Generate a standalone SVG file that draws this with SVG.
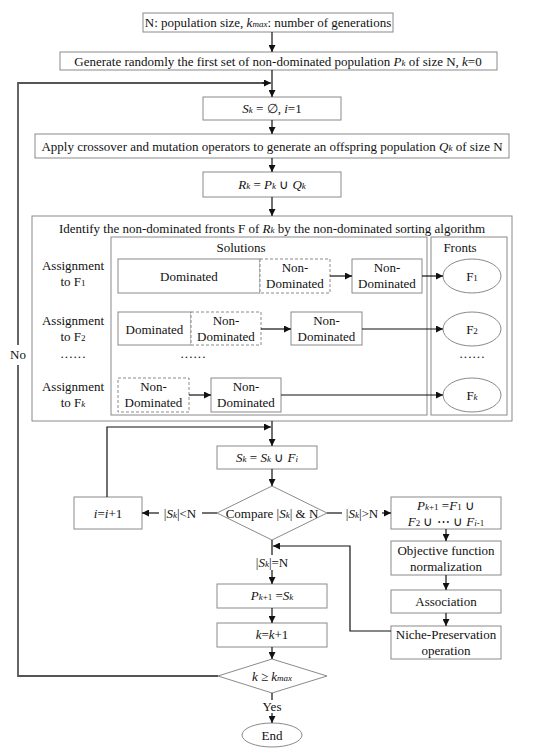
<svg xmlns="http://www.w3.org/2000/svg" width="550" height="754" viewBox="0 0 550 754">
<defs>
<marker id="ah" viewBox="0 0 10 10" refX="10" refY="5" markerWidth="8" markerHeight="7" markerUnits="userSpaceOnUse" orient="auto">
<path d="M0,0 L10,5 L0,10 Z" fill="#111"/>
</marker>
<style>
text{font-family:"Liberation Serif","Times New Roman",serif;font-size:13px;fill:#111;text-anchor:middle}
.b{fill:#fff;stroke:#8a8a8a;stroke-width:1}
.d{fill:#fff;stroke:#8a8a8a;stroke-width:1;stroke-dasharray:3,2}
.c{fill:none;stroke:#111;stroke-width:1.2}
.ca{fill:none;stroke:#111;stroke-width:1.2;marker-end:url(#ah)}
.loop{fill:none;stroke:#555;stroke-width:1.8}
.s{font-size:9px}
.i{font-style:italic}
</style>
</defs>
<rect width="550" height="754" fill="#fff"/>

<g id="n-input">
<rect class="b" x="143" y="13" width="250" height="19"/>
<text x="268" y="27">N: population size, <tspan class="i">k</tspan><tspan class="s i">max</tspan>: number of generations</text>
</g>
<g id="n-generate">
<rect class="b" x="60" y="52" width="437" height="18"/>
<text x="278" y="66">Generate randomly the first set of non-dominated population <tspan class="i">P</tspan><tspan class="s i">k</tspan> of size N, <tspan class="i">k</tspan>=0</text>
</g>
<g id="n-init">
<rect class="b" x="203" y="97" width="138" height="23"/>
<text x="272" y="113"><tspan class="i">S</tspan><tspan class="s i">k</tspan> = ∅, <tspan class="i">i</tspan>=1</text>
</g>
<g id="n-offspring">
<rect class="b" x="35" y="134" width="474" height="24"/>
<text x="272" y="151">Apply crossover and mutation operators to generate an offspring population <tspan class="i">Q</tspan><tspan class="s i">k</tspan> of size N</text>
</g>
<g id="n-union">
<rect class="b" x="203" y="172" width="138" height="25"/>
<text x="272" y="189"><tspan class="i">R</tspan><tspan class="s i">k</tspan> = <tspan class="i">P</tspan><tspan class="s i">k</tspan> ∪ <tspan class="i">Q</tspan><tspan class="s i">k</tspan></text>
</g>

<g id="n-sorting">
<rect class="b" x="32" y="216" width="480" height="205"/>
<text x="272" y="233">Identify the non-dominated fronts F of <tspan class="i">R</tspan><tspan class="s i">k</tspan> by the non-dominated sorting algorithm</text>
<rect class="b" x="111" y="237" width="316" height="178"/>
<rect class="b" x="431" y="237" width="76" height="178"/>
<text x="241" y="252">Solutions</text>
<text x="460" y="252">Fronts</text>
<text x="73" y="270">Assignment</text>
<text x="73" y="286">to F<tspan class="s">1</tspan></text>
<text x="73" y="325">Assignment</text>
<text x="73" y="341">to F<tspan class="s">2</tspan></text>
<text x="73" y="361">······</text>
<text x="193" y="361">······</text>
<text x="472" y="361">······</text>
<text x="73" y="391">Assignment</text>
<text x="73" y="407">to F<tspan class="s i">k</tspan></text>
</g>

<g id="n-r1-dom"><rect class="b" x="118" y="259" width="142" height="34"/><text x="189" y="281">Dominated</text></g>
<g id="n-r1-nd1"><rect class="d" x="260" y="259" width="70" height="34"/><text x="295" y="272">Non-</text><text x="295" y="288">Dominated</text></g>
<g id="n-r1-nd2"><rect class="b" x="352" y="259" width="70" height="34"/><text x="387" y="272">Non-</text><text x="387" y="288">Dominated</text></g>
<g id="n-f1"><ellipse class="b" cx="472" cy="276" rx="29" ry="17"/><text x="472" y="281">F<tspan class="s">1</tspan></text></g>

<g id="n-r2-dom"><rect class="b" x="118" y="312" width="73" height="33"/><text x="154.5" y="334">Dominated</text></g>
<g id="n-r2-nd1"><rect class="d" x="191" y="312" width="70" height="33"/><text x="226" y="325">Non-</text><text x="226" y="341">Dominated</text></g>
<g id="n-r2-nd2"><rect class="b" x="291" y="312" width="71" height="33"/><text x="326.5" y="325">Non-</text><text x="326.5" y="341">Dominated</text></g>
<g id="n-f2"><ellipse class="b" cx="472" cy="329" rx="29" ry="17"/><text x="472" y="334">F<tspan class="s">2</tspan></text></g>

<g id="n-rk-nd1"><rect class="d" x="118" y="378" width="71" height="34"/><text x="153.5" y="391">Non-</text><text x="153.5" y="407">Dominated</text></g>
<g id="n-rk-nd2"><rect class="b" x="211" y="378" width="70" height="34"/><text x="246" y="391">Non-</text><text x="246" y="407">Dominated</text></g>
<g id="n-fk"><ellipse class="b" cx="472" cy="395" rx="29" ry="17"/><text x="472" y="400">F<tspan class="s i">k</tspan></text></g>

<g id="n-addfront">
<rect class="b" x="217" y="446" width="100" height="23"/>
<text x="267" y="462"><tspan class="i">S</tspan><tspan class="s i">k</tspan> = <tspan class="i">S</tspan><tspan class="s i">k</tspan> ∪ <tspan class="i">F</tspan><tspan class="s i">i</tspan></text>
</g>
<g id="n-compare">
<polygon class="b" points="272,486 327,513 272,540 217,513"/>
<text x="272" y="518">Compare |<tspan class="i">S</tspan><tspan class="s i">k</tspan>| &amp; N</text>
</g>
<g id="n-inc">
<rect class="b" x="74" y="497" width="68" height="32"/>
<text x="108" y="518"><tspan class="i">i</tspan>=<tspan class="i">i</tspan>+1</text>
</g>

<g id="n-pk1-partial">
<rect class="b" x="391" y="497" width="110" height="32"/>
<text x="446" y="510"><tspan class="i">P</tspan><tspan class="s i">k</tspan><tspan class="s">+1</tspan> =<tspan class="i">F</tspan><tspan class="s">1</tspan> ∪</text>
<text x="446" y="526"><tspan class="i">F</tspan><tspan class="s">2</tspan> ∪ ⋯ ∪  <tspan class="i">F</tspan><tspan class="s i">i</tspan><tspan class="s">-1</tspan></text>
</g>
<g id="n-normalize">
<rect class="b" x="391" y="541" width="110" height="34"/>
<text x="446" y="555">Objective function</text>
<text x="446" y="571">normalization</text>
</g>
<g id="n-assoc">
<rect class="b" x="391" y="590" width="110" height="23"/>
<text x="446" y="606">Association</text>
</g>
<g id="n-niche">
<rect class="b" x="391" y="626" width="110" height="33"/>
<text x="446" y="639">Niche-Preservation</text>
<text x="446" y="655">operation</text>
</g>

<g id="n-pk1">
<rect class="b" x="217" y="584" width="110" height="24"/>
<text x="272" y="600"><tspan class="i">P</tspan><tspan class="s i">k</tspan><tspan class="s">+1</tspan> =<tspan class="i">S</tspan><tspan class="s i">k</tspan></text>
</g>
<g id="n-kinc">
<rect class="b" x="217" y="623" width="110" height="24"/>
<text x="272" y="639"><tspan class="i">k</tspan>=<tspan class="i">k</tspan>+1</text>
</g>
<g id="n-check">
<polygon class="b" points="272,659 327,676 272,693 218,676"/>
<text x="272" y="681"><tspan class="i">k</tspan> ≥ <tspan class="i">k</tspan><tspan class="s i">max</tspan></text>
</g>
<g id="n-end">
<ellipse class="b" cx="272" cy="735" rx="30" ry="12"/>
<text x="272" y="740">End</text>
</g>

<g id="connectors">
<line class="ca" x1="272" y1="32" x2="272" y2="52"/>
<line class="ca" x1="272" y1="70" x2="272" y2="97"/>
<line class="ca" x1="272" y1="120" x2="272" y2="134"/>
<line class="ca" x1="272" y1="158" x2="272" y2="172"/>
<line class="ca" x1="272" y1="197" x2="272" y2="216"/>
<polyline class="loop" points="218,676 18,676 18,83 264,83"/>
<line class="ca" x1="262" y1="83" x2="271" y2="83"/>
<line class="ca" x1="330" y1="276" x2="352" y2="276"/>
<line class="ca" x1="422" y1="276" x2="443" y2="276"/>
<line class="ca" x1="261" y1="329" x2="291" y2="329"/>
<line class="ca" x1="362" y1="329" x2="443" y2="329"/>
<line class="ca" x1="189" y1="395" x2="211" y2="395"/>
<line class="ca" x1="281" y1="395" x2="443" y2="395"/>
<line class="ca" x1="272" y1="421" x2="272" y2="446"/>
<polyline class="ca" points="107,497 107,427 271,427"/>
<line class="ca" x1="272" y1="469" x2="272" y2="486"/>
<line class="c" x1="217" y1="513" x2="202" y2="513"/>
<line class="ca" x1="159" y1="513" x2="142" y2="513"/>
<line class="c" x1="327" y1="513" x2="342" y2="513"/>
<line class="ca" x1="382" y1="513" x2="391" y2="513"/>
<line class="c" x1="272" y1="540" x2="272" y2="555"/>
<line class="ca" x1="272" y1="570" x2="272" y2="584"/>
<polyline class="ca" points="391,631 350,631 350,546 273,546"/>
<line class="ca" x1="446" y1="529" x2="446" y2="541"/>
<line class="ca" x1="446" y1="575" x2="446" y2="590"/>
<line class="ca" x1="446" y1="613" x2="446" y2="626"/>
<line class="ca" x1="272" y1="608" x2="272" y2="623"/>
<line class="ca" x1="272" y1="647" x2="272" y2="659"/>
<line class="c" x1="272" y1="693" x2="272" y2="700"/>
<line class="ca" x1="272" y1="713" x2="272" y2="723"/>
</g>

<text x="180" y="518">|<tspan class="i">S</tspan><tspan class="s i">k</tspan>|&lt;N</text>
<text x="362" y="518">|<tspan class="i">S</tspan><tspan class="s i">k</tspan>|&gt;N</text>
<text x="272" y="567">|<tspan class="i">S</tspan><tspan class="s i">k</tspan>|=N</text>
<rect x="8" y="345" width="20" height="20" fill="#fff"/>
<text x="18" y="359">No</text>
<text x="272" y="711">Yes</text>
</svg>
